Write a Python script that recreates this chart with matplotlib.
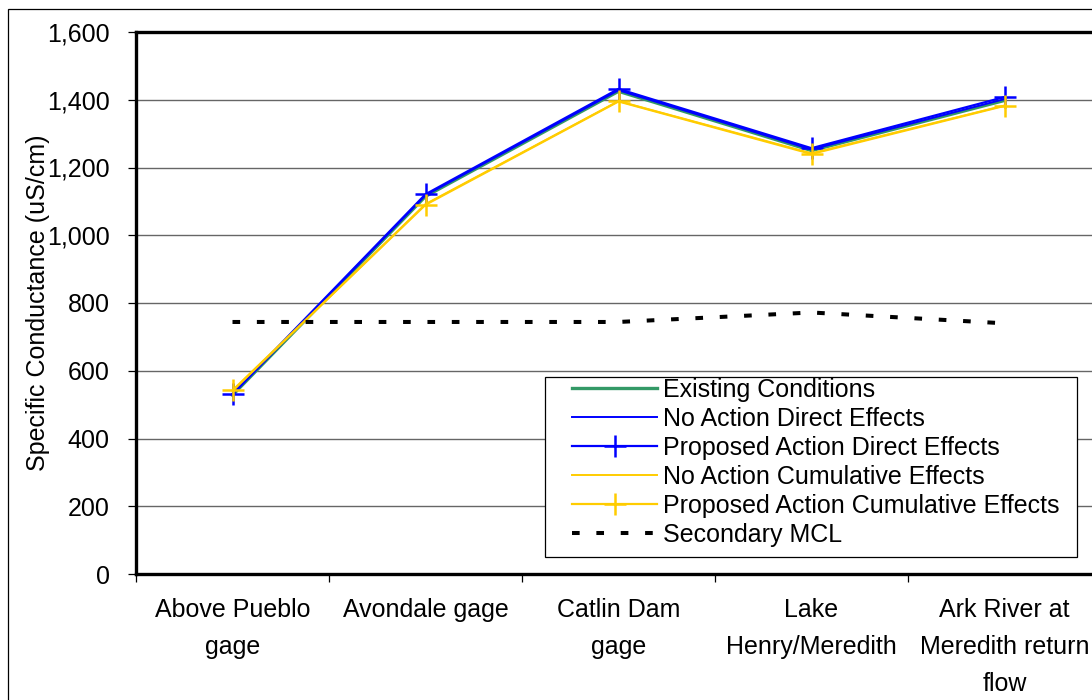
import matplotlib
matplotlib.use("Agg")
import matplotlib.pyplot as plt
from matplotlib.patches import Rectangle
from matplotlib.ticker import FuncFormatter, FixedLocator

plt.rcParams['font.family'] = ['Liberation Sans', 'DejaVu Sans']

categories = ["Above Pueblo\ngage", "Avondale gage", "Catlin Dam\ngage",
              "Lake\nHenry/Meredith", "Ark River at\nMeredith return\nflow"]
existing = [528, 1115, 1425, 1250, 1398]
no_action_direct = [530, 1118, 1428, 1253, 1402]
proposed_direct = [532, 1121, 1432, 1257, 1408]
no_action_cum = [540, 1092, 1396, 1242, 1383]
proposed_cum = [542, 1090, 1395, 1240, 1382]
secondary_mcl = [744, 744, 744, 772, 740]
y_ticks = [0, 200, 400, 600, 800, 1000, 1200, 1400, 1600]

W, H = 1092, 700
fig = plt.figure(figsize=(W / 100, H / 100), dpi=100)
fig.patch.set_facecolor('white')

# outer chart border
fig.patches.append(Rectangle((8 / W, -0.1), 1.2, (H - 9) / H + 0.1,
                             transform=fig.transFigure, fill=False,
                             edgecolor='black', lw=0.9, zorder=0))

left, right, top, bottom = 136, 1101, 32, 574
ax = fig.add_axes([left / W, 1 - bottom / H, (right - left) / W, (bottom - top) / H])

x = list(range(len(categories)))
FS = 18

ax.plot(x, existing, color='#339966', lw=2.4, label='Existing Conditions', zorder=3)
ax.plot(x, no_action_direct, color='#0000FF', lw=1.4, label='No Action Direct Effects', zorder=4)
ax.plot(x, proposed_direct, color='#0000FF', lw=1.6, marker='+', ms=16, mew=1.8,
        label='Proposed Action Direct Effects', zorder=5)
ax.plot(x, no_action_cum, color='#FFCC00', lw=1.4, label='No Action Cumulative Effects', zorder=6)
ax.plot(x, proposed_cum, color='#FFCC00', lw=1.6, marker='+', ms=16, mew=1.8,
        label='Proposed Action Cumulative Effects', zorder=7)
ax.plot(x, secondary_mcl, color='black', lw=2.9, dashes=(1.9, 4.15),
        dash_capstyle='butt', label='Secondary MCL', zorder=8)

ax.set_xlim(-0.5, len(categories) - 0.5)
ax.set_ylim(0, 1600)
ax.set_yticks(y_ticks)
ax.yaxis.set_major_formatter(FuncFormatter(lambda v, p: f"{int(v):,}"))
ax.grid(axis='y', color='#666666', lw=1.0)
ax.set_axisbelow(True)

ax.xaxis.set_major_locator(FixedLocator([i - 0.5 for i in range(len(categories) + 1)]))
ax.xaxis.set_major_formatter(FuncFormatter(lambda v, p: ""))
ax.xaxis.set_minor_locator(FixedLocator(x))
ax.set_xticklabels(categories, minor=True)
ax.tick_params(axis='x', which='major', direction='out', length=6, width=0.9, color='black')
ax.tick_params(axis='x', which='minor', length=0, pad=17, labelsize=FS)
for lbl in ax.get_xticklabels(minor=True):
    lbl.set_linespacing(1.7)
ax.tick_params(axis='y', direction='out', length=6, width=0.9, labelsize=FS, pad=13)

for s in ax.spines.values():
    s.set_linewidth(2.4)
    s.set_color('black')

ax.set_ylabel('Specific Conductance (uS/cm)', fontsize=FS, labelpad=-2)

# legend frame drawn manually to match the reference box
ax.add_patch(Rectangle((545 / W, 1 - 557 / H), (1077 - 545) / W, (557 - 377) / H,
                       transform=fig.transFigure, facecolor='white',
                       edgecolor='black', lw=0.9, zorder=9, clip_on=False))
leg = ax.legend(loc='upper left', bbox_to_anchor=(572 / W, 1 - 378 / H),
                bbox_transform=fig.transFigure, fontsize=FS, frameon=False,
                handlelength=3.4, handletextpad=0.24, labelspacing=0.2,
                borderpad=0, borderaxespad=0)
leg.set_zorder(10)

fig.savefig('out.png', dpi=100)
